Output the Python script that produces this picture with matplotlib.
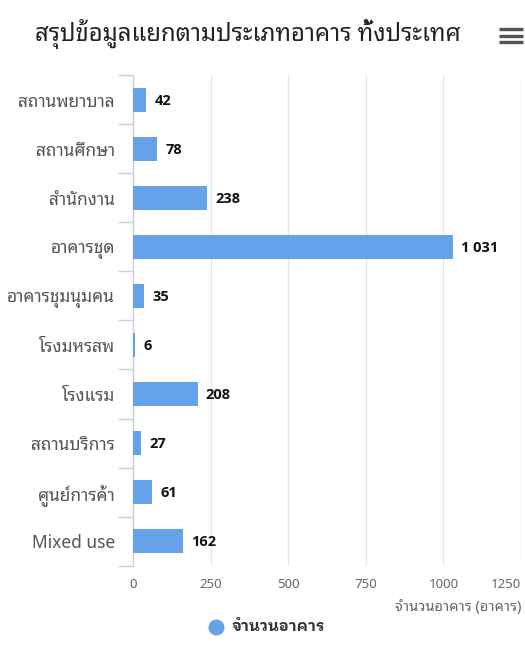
import matplotlib
matplotlib.use("Agg")
import matplotlib.pyplot as plt
from matplotlib.lines import Line2D

plt.rcParams['font.family'] = ['Noto Sans', 'Noto Sans Thai Looped', 'DejaVu Sans']
BOLD_FAMILY = ['Open Sans', 'IBM Plex Sans Thai Looped', 'Noto Sans Thai Looped', 'DejaVu Sans']

title = "สรุปข้อมูลแยกตามประเภทอาคาร ทั้งประเทศ"
categories = ["สถานพยาบาล", "สถานศึกษา", "สำนักงาน", "อาคารชุด", "อาคารชุมนุมคน",
              "โรงมหรสพ", "โรงแรม", "สถานบริการ", "ศูนย์การค้า", "Mixed use"]
values = [42, 78, 238, 1031, 35, 6, 208, 27, 61, 162]
x_ticks = [0, 250, 500, 750, 1000, 1250]
x_label = "จำนวนอาคาร (อาคาร)"
series_name = "จำนวนอาคาร"

W, H = 525, 662
fig = plt.figure(figsize=(W / 100, H / 100), dpi=100)
ax = fig.add_axes([133 / W, 1 - 565.5 / H, (521 - 133) / W, (565.5 - 75.5) / H])

bar_color = "#65a2ea"
ypos = list(range(len(categories)))
ax.barh(ypos, values, height=0.47, color=bar_color, zorder=3)
ax.set_ylim(len(categories) - 0.5, -0.5)
ax.set_xlim(0, 1250)

# value labels
for y, v in zip(ypos, values):
    txt = f"{v:,}".replace(",", " ")
    ax.annotate(txt, (v, y), xytext=(6, -1), textcoords="offset points",
                ha="left", va="center", fontsize=10.5, fontweight="bold",
                family=BOLD_FAMILY, color="#111111")

# grid
for t in x_ticks[1:]:
    ax.axvline(t, color="#e6e6e6", lw=1, zorder=1)
for s in ["top", "right", "bottom"]:
    ax.spines[s].set_visible(False)
ax.spines["left"].set_color("#c8cfdc")
ax.spines["left"].set_linewidth(1)

# category labels & boundary ticks
ax.set_yticks(ypos)
ax.set_yticklabels(categories, fontsize=12.5, color="#555555")
ax.tick_params(axis="y", length=0, pad=13)
ax.set_yticks([i - 0.5 for i in range(len(categories) + 1)], minor=True)
ax.tick_params(axis="y", which="minor", length=11, color="#c8cfdc", width=1)

ax.set_xticks(x_ticks)
ax.set_xticklabels([str(t) for t in x_ticks], fontsize=9.5, color="#666666")
ax.tick_params(axis="x", length=0, pad=9)
lbls = ax.get_xticklabels()
lbls[-1].set_ha("right")
lbls[-1].set_x(1250)

fig.text(521 / W, 1 - 607 / H, x_label, ha="right", va="center", fontsize=10.5, color="#666666")

# title
fig.text(248 / W, 1 - 34 / H, title, ha="center", va="center", fontsize=17.2, color="#222222")

# menu icon
for yy in (29, 35.7, 42):
    fig.add_artist(Line2D([499 / W, 523 / W], [1 - yy / H] * 2, color="#555555", lw=2.4,
                          solid_capstyle="butt"))

# legend
fig.add_artist(Line2D([216 / W], [1 - 627 / H], marker="o", markersize=10.5, color=bar_color, lw=0))
fig.text(232 / W, 1 - 627 / H, series_name, ha="left", va="center", fontsize=11,
         fontweight="bold", family=BOLD_FAMILY, color="#333333")

fig.savefig("out.png", dpi=100)
